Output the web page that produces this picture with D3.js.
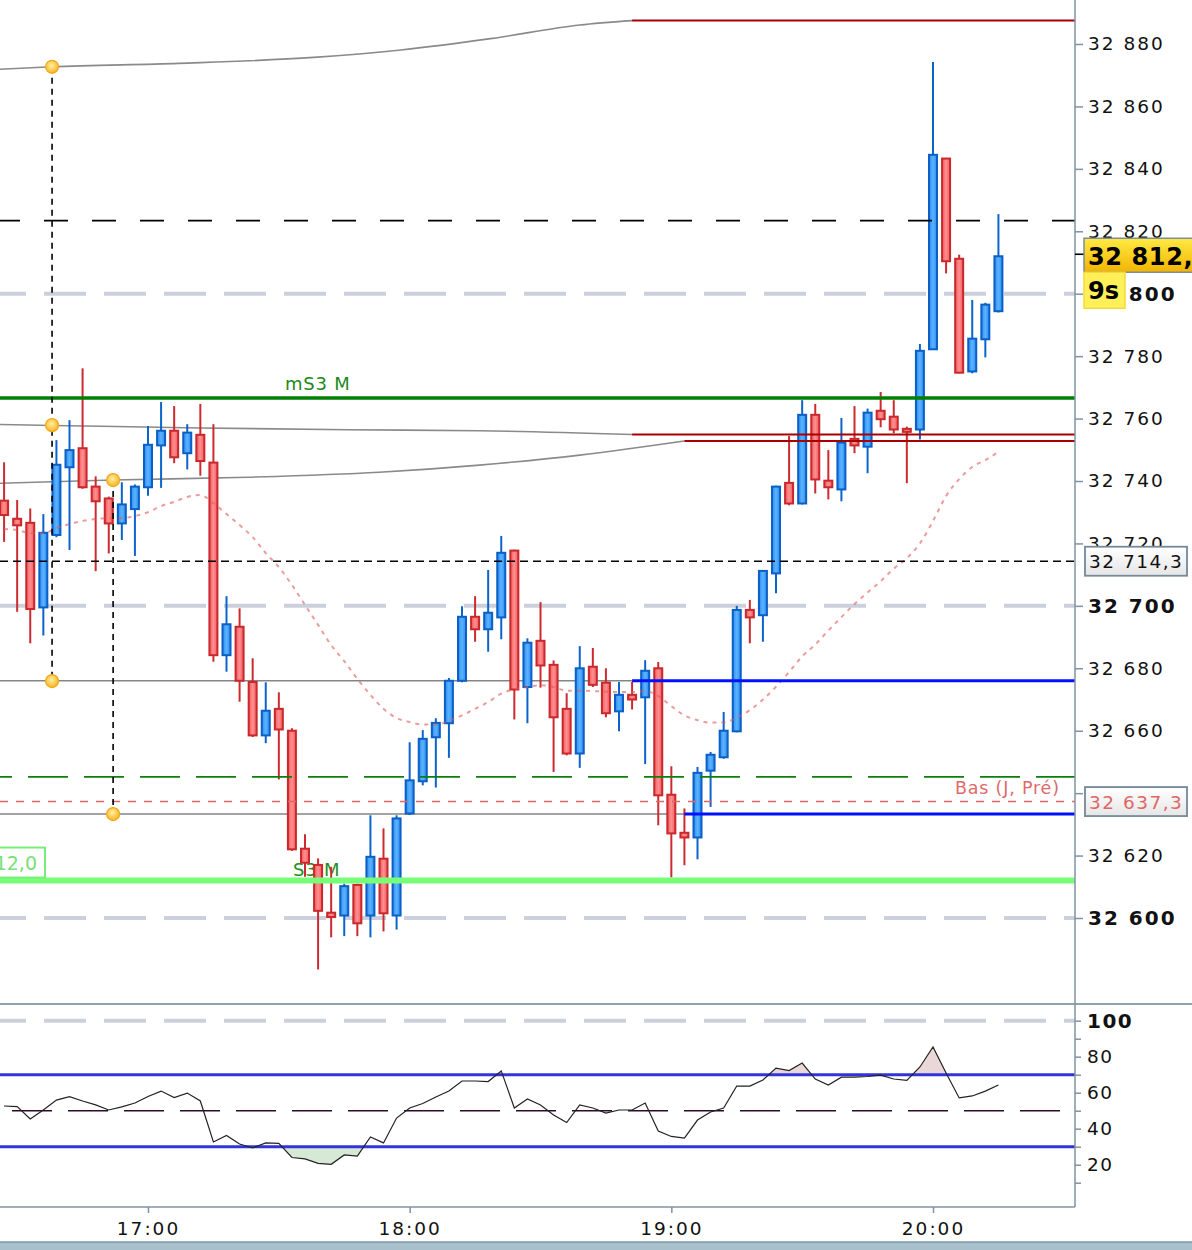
<!DOCTYPE html>
<html>
<head>
<meta charset="utf-8">
<script src="https://cdn.jsdelivr.net/npm/d3@7.9.0/dist/d3.min.js"></script>
<style>
  html, body { margin: 0; padding: 0; background: #fff; }
  svg { display: block; font-family: "DejaVu Sans", sans-serif; }
</style>
</head>
<body>
<svg id="chart" width="1192" height="1250"></svg>
<script>
// ---- data (3 min candles) ----
const times = ["16:27","16:30","16:33","16:36","16:39","16:42","16:45","16:48","16:51","16:54","16:57",
  "17:00","17:03","17:06","17:09","17:12","17:15","17:18","17:21","17:24","17:27","17:30","17:33","17:36","17:39","17:42","17:45","17:48","17:51","17:54","17:57",
  "18:00","18:03","18:06","18:09","18:12","18:15","18:18","18:21","18:24","18:27","18:30","18:33","18:36","18:39","18:42","18:45","18:48","18:51","18:54","18:57",
  "19:00","19:03","19:06","19:09","19:12","19:15","19:18","19:21","19:24","19:27","19:30","19:33","19:36","19:39","19:42","19:45","19:48","19:51","19:54","19:57",
  "20:00","20:03","20:06","20:09","20:12","20:15"];
const open = [32733.7,32727.9,32726.6,32699.5,32722.7,32744.4,32750.5,32738.2,32734.4,32726.4,32731.0,
  32738.0,32751.4,32756.1,32748.9,32754.8,32745.9,32684.2,32693.3,32675.6,32658.5,32667.0,32660.0,32622.2,32617.0,32601.7,32600.8,32610.6,32600.8,32619.0,32600.8,
  32633.5,32643.8,32657.9,32662.4,32676.0,32696.5,32692.5,32696.3,32717.7,32674.0,32688.8,32681.1,32667.0,32652.7,32680.5,32675.4,32666.2,32671.5,32670.7,32680.0,
  32639.5,32627.3,32625.8,32647.2,32651.5,32659.8,32698.7,32697.0,32710.4,32739.4,32732.8,32761.2,32740.1,32737.3,32753.5,32751.0,32762.5,32760.6,32756.7,32756.5,
  32782.2,32843.3,32811.2,32775.1,32785.4,32794.4];
const high = [32746.0,32733.9,32731.2,32729.4,32753.1,32759.5,32776.1,32741.5,32735.0,32739.6,32738.9,
  32757.6,32765.3,32764.0,32758.2,32764.7,32758.2,32703.1,32699.2,32683.2,32675.5,32672.3,32660.8,32626.8,32619.1,32616.4,32611.0,32611.0,32632.9,32628.7,32632.9,
  32656.3,32660.2,32664.0,32676.9,32699.9,32703.1,32711.5,32722.4,32718.0,32689.6,32701.2,32682.5,32672.0,32687.1,32686.5,32680.0,32675.6,32675.6,32682.6,32682.0,
  32648.6,32635.1,32648.4,32653.2,32666.0,32700.0,32701.9,32711.5,32738.5,32754.4,32765.9,32764.7,32749.9,32760.2,32764.0,32763.2,32768.5,32765.9,32757.4,32783.9,
  32874.2,32843.5,32812.5,32798.0,32797.1,32825.5];
const low = [32720.5,32698.1,32688.0,32690.5,32722.0,32717.9,32737.5,32711.1,32716.8,32721.1,32716.0,
  32735.3,32737.8,32745.7,32743.7,32741.7,32682.1,32678.9,32669.3,32658.0,32656.0,32644.4,32621.5,32613.2,32583.5,32593.8,32594.2,32594.2,32593.8,32595.7,32596.3,
  32633.0,32642.5,32641.8,32651.3,32675.5,32688.5,32685.3,32689.3,32663.6,32662.4,32673.8,32646.8,32652.1,32648.1,32674.0,32664.3,32659.8,32666.8,32649.3,32629.7,
  32613.0,32616.9,32618.8,32635.6,32651.0,32659.5,32688.0,32688.5,32704.0,32732.2,32732.5,32736.0,32734.1,32733.5,32748.9,32742.5,32757.2,32755.3,32739.3,32753.3,
  32782.0,32806.5,32774.5,32774.5,32779.6,32794.0];
const close = [32729.1,32725.8,32699.0,32723.4,32745.2,32749.9,32738.0,32733.5,32726.4,32732.5,32738.2,
  32751.6,32756.1,32747.6,32755.5,32746.4,32684.2,32694.1,32676.0,32658.5,32666.4,32660.4,32622.0,32617.7,32602.3,32600.3,32610.2,32598.3,32619.6,32601.5,32631.9,
  32644.1,32657.4,32662.5,32676.0,32696.5,32692.5,32697.8,32717.0,32673.2,32688.2,32680.9,32664.3,32652.7,32680.0,32674.7,32665.6,32671.5,32670.0,32679.2,32639.3,
  32627.1,32625.8,32646.5,32652.3,32660.0,32698.7,32696.3,32711.2,32738.2,32732.8,32761.2,32740.5,32738.0,32752.3,32751.4,32761.9,32759.8,32756.5,32755.9,32781.7,
  32844.5,32810.4,32774.7,32785.6,32796.5,32812.0];
// dotted moving average
const movingAvg = [32724.6,32724.3,32723.3,32723.3,32724.9,32726.2,32727.2,32727.8,32728.1,32728.1,32728.8,
  32730.0,32732.0,32733.3,32734.9,32735.5,32732.9,32729.4,32725.9,32722.0,32716.9,32712.4,32706.7,32700.3,32693.9,32687.4,32682.3,32676.6,32671.5,32667.0,32664.1,
  32662.8,32662.0,32662.0,32663.1,32664.9,32667.0,32669.2,32671.9,32673.3,32674.0,32674.6,32674.0,32672.8,32672.8,32672.7,32672.5,32672.4,32672.4,32672.7,32671.1,
  32667.9,32664.9,32663.4,32662.6,32662.6,32664.2,32666.6,32670.0,32674.1,32678.8,32683.8,32687.6,32692.1,32696.4,32700.6,32704.3,32707.9,32711.9,32715.3,32720.0,
  32727.2,32735.2,32740.6,32744.5,32746.7,32749.3];
// RSI in lower pane
const rsi = [52.6,52.3,45.4,50.4,55.9,57.8,55.4,53.2,50.4,52.1,54.3,
  57.9,60.9,57.3,59.8,55.4,32.6,36.2,31.5,29.3,32.1,31.9,24.0,23.2,20.7,20.2,25.4,24.8,35.4,32.1,45.9,
  51.5,54.0,57.6,60.9,66.5,66.5,66.2,72.1,51.5,56.5,53.2,47.6,43.4,53.2,51.5,48.7,50.4,50.4,54.3,38.7,
  35.7,34.8,44.8,49.3,51.5,63.7,63.7,67.1,73.7,72.3,76.5,67.6,64.3,68.6,68.7,69.0,69.8,67.6,66.8,74.3,
  85.4,70.9,57.1,58.2,60.9,64.3];

// smoothed level transitions (grey) and the new day's levels (dark red)
const curveTopTimes = ["16:26","16:38","17:07","17:38","17:58","18:19","18:39","18:51"];
const curveTopValues = [32871.9,32872.7,32873.8,32875.7,32878.1,32881.8,32886.1,32887.5];
const curveMidTimes = ["16:26","16:38","17:12","17:46","18:16","18:51"];
const curveMidValues = [32758.1,32757.8,32757.0,32756.4,32756.1,32754.9];
const curveLowTimes = ["16:26","16:52","17:23","17:53","18:16","18:39","19:03"];
const curveLowValues = [32739.3,32740.3,32741.2,32742.8,32745.1,32748.3,32752.8];
const dayLevelStarts = ["18:51","18:51","19:03"];
const dayLevelValues = [32887.5,32754.9,32752.8];
// grey range lines that turn blue
const rangeSwitchTimes = ["18:51","19:03"];
const rangeValues = [32676.0,32633.3];
// monthly pivots
const pivotLabels = ["mS3 M","S3 M"];
const pivotValues = [32766.6,32612.0];
const pivotBoxText = "32 612,0";
// other reference lines
const greenDashValue = 32645.2;
const blackDashValue = 32823.4;
const refLabels = ["32 714,3","32 637,3"];
const refValues = [32714.3,32637.3];
const prevLowLabel = "Bas (J, Pré)";
const lastPrice = 32812.0;
const lastPriceText = "32 812,0";
const countdown = "9s";
// drawing tool anchors
const drawTimes = ["16:38","16:52"];
const drawValuesA = [32872.7,32757.9,32675.9];
const drawValuesB = [32740.3,32633.3];

const priceTicks = d3.range(32600, 32881, 20);
const rsiTicks = d3.range(10, 101, 10);
const rsiBands = [70, 30];
const timeTicks = ["17:00","18:00","19:00","20:00"];

// ---- setup ----
const parseT = d3.timeParse("%H:%M");
const fr = d3.formatLocale({decimal: ",", thousands: " ", grouping: [3], currency: ["", " €"]});
const fmt = fr.format(",");

const W = 1192, plotR = 1075, paneBottom = 1003;
const x = d3.scaleTime().domain([parseT("17:00"), parseT("20:00")]).range([148, 933]);
const y = d3.scaleLinear().domain([32600, 32880]).range([918, 44]);
const ry = d3.scaleLinear().domain([0, 100]).range([1200.7, 1020.7]);

const svg = d3.select("#chart");
const defs = svg.append("defs");

function hGrad(id, edge, mid) {
  const g = defs.append("linearGradient").attr("id", id).attr("x1", 0).attr("x2", 1).attr("y1", 0).attr("y2", 0);
  g.append("stop").attr("offset", "0%").attr("stop-color", edge);
  g.append("stop").attr("offset", "50%").attr("stop-color", mid);
  g.append("stop").attr("offset", "100%").attr("stop-color", edge);
}
hGrad("gUp", "#2b8cf0", "#5cb4ff");
hGrad("gDown", "#f15a5e", "#ff9090");
const gy = defs.append("linearGradient").attr("id", "gYellow").attr("x1", 0).attr("x2", 0).attr("y1", 0).attr("y2", 1);
gy.append("stop").attr("offset", "0%").attr("stop-color", "#ffea45");
gy.append("stop").attr("offset", "100%").attr("stop-color", "#f2b400");
const gb = defs.append("linearGradient").attr("id", "gBox").attr("x1", 0).attr("x2", 0).attr("y1", 0).attr("y2", 1);
gb.append("stop").attr("offset", "0%").attr("stop-color", "#ffffff");
gb.append("stop").attr("offset", "100%").attr("stop-color", "#e6e6e6");
const gd = defs.append("radialGradient").attr("id", "gDot").attr("cx", "45%").attr("cy", "40%").attr("r", "60%");
gd.append("stop").attr("offset", "0%").attr("stop-color", "#fff0a0");
gd.append("stop").attr("offset", "100%").attr("stop-color", "#f7b320");

defs.append("clipPath").attr("id", "pane").append("rect")
  .attr("x", 0).attr("y", 0).attr("width", plotR).attr("height", paneBottom);
defs.append("clipPath").attr("id", "rpane").append("rect")
  .attr("x", 0).attr("y", 1005).attr("width", plotR).attr("height", 202);
defs.append("clipPath").attr("id", "above70").append("rect")
  .attr("x", 0).attr("y", 1005).attr("width", plotR).attr("height", ry(70) - 1005);
defs.append("clipPath").attr("id", "below30").append("rect")
  .attr("x", 0).attr("y", ry(30)).attr("width", plotR).attr("height", 1207 - ry(30));

const candles = times.map((t, i) => ({t: parseT(t), o: open[i], h: high[i], l: low[i], c: close[i]}));

// ---- price pane ----
const pane = svg.append("g").attr("clip-path", "url(#pane)");

// grid dashes at round hundreds
pane.selectAll("line.grid").data(priceTicks.filter(d => d % 100 === 0)).join("line")
  .attr("x1", 0).attr("x2", plotR).attr("y1", d => y(d)).attr("y2", d => y(d))
  .attr("stroke", "#ccd0dc").attr("stroke-width", 4)
  .attr("stroke-dasharray", "42,18").attr("stroke-dashoffset", 16);

// grey smoothed curves
const curveLine = d3.line().x(d => x(d[0])).y(d => y(d[1])).curve(d3.curveMonotoneX);
[[curveTopTimes, curveTopValues], [curveMidTimes, curveMidValues], [curveLowTimes, curveLowValues]]
  .forEach(([ts, vs]) => {
    pane.append("path").datum(ts.map((t, i) => [parseT(t), vs[i]]))
      .attr("d", curveLine).attr("fill", "none").attr("stroke", "#8a8a8a").attr("stroke-width", 1.6);
  });

// grey range lines (before switch)
rangeValues.forEach((v, i) => {
  pane.append("line").attr("x1", 0).attr("x2", x(parseT(rangeSwitchTimes[i])))
    .attr("y1", y(v)).attr("y2", y(v)).attr("stroke", "#858585").attr("stroke-width", 1.6);
});

// pivot labels (behind candles)
pane.append("text").text(pivotLabels[0]).attr("x", 285).attr("y", y(pivotValues[0]) - 8)
  .attr("font-size", 18).attr("letter-spacing", 0.8).attr("fill", "#1a8a1a");
pane.append("text").text(pivotLabels[1]).attr("x", 293).attr("y", y(pivotValues[1]) - 5)
  .attr("font-size", 18).attr("letter-spacing", 0.8).attr("fill", "#1f8f1f");

// candles
const cw = 8;
const cg = pane.append("g").selectAll("g").data(candles).join("g");
cg.append("line")
  .attr("x1", d => x(d.t)).attr("x2", d => x(d.t))
  .attr("y1", d => y(d.h)).attr("y2", d => y(d.l))
  .attr("stroke", d => d.c >= d.o ? "#0b63cc" : "#cc2a2e").attr("stroke-width", 2);
cg.append("rect")
  .attr("x", d => x(d.t) - cw / 2)
  .attr("y", d => y(Math.max(d.o, d.c)))
  .attr("width", cw)
  .attr("height", d => Math.max(3, Math.abs(y(d.o) - y(d.c))))
  .attr("fill", d => d.c >= d.o ? "url(#gUp)" : "url(#gDown)")
  .attr("stroke", d => d.c >= d.o ? "#0b5fc6" : "#c9282c").attr("stroke-width", 2);

// moving average, dotted
pane.append("path")
  .datum(times.map((t, i) => [parseT(t), movingAvg[i]]))
  .attr("d", d3.line().x(d => x(d[0])).y(d => y(d[1])).curve(d3.curveMonotoneX))
  .attr("fill", "none").attr("stroke", "#e05a5a").attr("stroke-opacity", 0.6)
  .attr("stroke-width", 2).attr("stroke-dasharray", "4,5");

// blue parts of range lines
rangeValues.forEach((v, i) => {
  pane.append("line").attr("x1", x(parseT(rangeSwitchTimes[i]))).attr("x2", plotR)
    .attr("y1", y(v)).attr("y2", y(v)).attr("stroke", "#0010ff").attr("stroke-width", 3);
});
// new day levels
dayLevelValues.forEach((v, i) => {
  pane.append("line").attr("x1", x(parseT(dayLevelStarts[i]))).attr("x2", plotR)
    .attr("y1", y(v)).attr("y2", y(v)).attr("stroke", "#a80000").attr("stroke-width", 2);
});

// dashed references
pane.append("line").attr("x1", 0).attr("x2", plotR).attr("y1", y(greenDashValue)).attr("y2", y(greenDashValue))
  .attr("stroke", "#0a800a").attr("stroke-width", 1.6).attr("stroke-dasharray", "40,16").attr("stroke-dashoffset", 28);
pane.append("line").attr("x1", 0).attr("x2", plotR).attr("y1", y(refValues[1])).attr("y2", y(refValues[1]))
  .attr("stroke", "#e06666").attr("stroke-width", 1.6).attr("stroke-dasharray", "8,8");
pane.append("line").attr("x1", 0).attr("x2", plotR).attr("y1", y(refValues[0])).attr("y2", y(refValues[0]))
  .attr("stroke", "#000").attr("stroke-width", 1.6).attr("stroke-dasharray", "8,5");
pane.append("line").attr("x1", 0).attr("x2", plotR).attr("y1", y(blackDashValue)).attr("y2", y(blackDashValue))
  .attr("stroke", "#000").attr("stroke-width", 1.6).attr("stroke-dasharray", "24,24").attr("stroke-dashoffset", 4);

// monthly pivot lines
pane.append("line").attr("x1", 0).attr("x2", plotR).attr("y1", y(pivotValues[0])).attr("y2", y(pivotValues[0]))
  .attr("stroke", "#008000").attr("stroke-width", 3.5);
pane.append("line").attr("x1", 0).attr("x2", plotR).attr("y1", y(pivotValues[1])).attr("y2", y(pivotValues[1]))
  .attr("stroke", "#77ff77").attr("stroke-width", 6);
// left label box of S3
pane.append("rect").attr("x", -80).attr("y", y(pivotValues[1]) - 33).attr("width", 125).attr("height", 30)
  .attr("fill", "#fff").attr("stroke", "#77ee77").attr("stroke-width", 2);
pane.append("text").text(pivotBoxText).attr("x", 37).attr("y", y(pivotValues[1]) - 11)
  .attr("text-anchor", "end").attr("font-size", 19).attr("fill", "#77e077");

pane.append("text").text(prevLowLabel).attr("x", 955).attr("y", y(refValues[1]) - 8)
  .attr("font-size", 17.5).attr("letter-spacing", 0.8).attr("fill", "#e06a6a");

// drawing tool: dashed verticals with anchor dots
[[drawTimes[0], drawValuesA], [drawTimes[1], drawValuesB]].forEach(([t, vs]) => {
  const xx = x(parseT(t));
  pane.append("line").attr("x1", xx).attr("x2", xx).attr("y1", y(d3.max(vs))).attr("y2", y(d3.min(vs)))
    .attr("stroke", "#000").attr("stroke-width", 1.6).attr("stroke-dasharray", "6,5");
  pane.selectAll(null).data(vs).join("circle")
    .attr("cx", xx).attr("cy", d => y(d)).attr("r", 6.5)
    .attr("fill", "url(#gDot)").attr("stroke", "#f2a81c").attr("stroke-width", 1.2);
});

// ---- RSI pane ----
const rp = svg.append("g").attr("clip-path", "url(#rpane)");
const rsiPts = times.map((t, i) => [parseT(t), rsi[i]]);
rp.append("line").attr("x1", 0).attr("x2", plotR).attr("y1", ry(100)).attr("y2", ry(100))
  .attr("stroke", "#ccd0dc").attr("stroke-width", 4).attr("stroke-dasharray", "42,18").attr("stroke-dashoffset", 16);
rp.append("path").datum(rsiPts).attr("clip-path", "url(#above70)")
  .attr("d", d3.area().x(d => x(d[0])).y0(ry(70)).y1(d => ry(d[1])))
  .attr("fill", "#ead8d8");
rp.append("path").datum(rsiPts).attr("clip-path", "url(#below30)")
  .attr("d", d3.area().x(d => x(d[0])).y0(ry(30)).y1(d => ry(d[1])))
  .attr("fill", "#d5e9d5");
rp.append("line").attr("x1", 0).attr("x2", plotR).attr("y1", ry(50)).attr("y2", ry(50))
  .attr("stroke", "#2e0a2e").attr("stroke-width", 1.6).attr("stroke-dasharray", "40,16").attr("stroke-dashoffset", -12);
rp.selectAll("line.band").data(rsiBands).join("line")
  .attr("x1", 0).attr("x2", plotR).attr("y1", d => ry(d)).attr("y2", d => ry(d))
  .attr("stroke", "#3333dd").attr("stroke-width", 3);
rp.append("path").datum(rsiPts)
  .attr("d", d3.line().x(d => x(d[0])).y(d => ry(d[1])))
  .attr("fill", "none").attr("stroke", "#222").attr("stroke-width", 1.2);

// ---- frames ----
const axisCol = "#7f93a3";
svg.append("line").attr("x1", 0).attr("x2", W).attr("y1", 1004).attr("y2", 1004).attr("stroke", "#8fa2b0").attr("stroke-width", 2);
svg.append("line").attr("x1", 0).attr("x2", plotR).attr("y1", 1207).attr("y2", 1207).attr("stroke", axisCol).attr("stroke-width", 1.5);
svg.append("line").attr("x1", plotR).attr("x2", plotR).attr("y1", 0).attr("y2", 1207).attr("stroke", axisCol).attr("stroke-width", 1.5);

// ---- axes ----
const pAxis = svg.append("g").attr("transform", `translate(${plotR},0)`)
  .call(d3.axisRight(y).tickValues(priceTicks).tickSize(8).tickPadding(5).tickFormat(fmt));
pAxis.select(".domain").remove();
pAxis.selectAll(".tick line").attr("stroke", axisCol).attr("stroke-width", 1.5);
pAxis.selectAll(".tick text")
  .attr("font-family", "DejaVu Sans").attr("fill", "#111")
  .attr("font-size", d => d % 100 === 0 ? 20 : 18.5)
  .attr("font-weight", d => d % 100 === 0 ? "bold" : "normal")
  .attr("letter-spacing", 2);

const rAxis = svg.append("g").attr("transform", `translate(${plotR},0)`)
  .call(d3.axisRight(ry).tickValues(rsiTicks).tickSize(6).tickPadding(6).tickFormat(d => d % 20 === 0 ? d : ""));
rAxis.select(".domain").remove();
rAxis.selectAll(".tick line").attr("stroke", axisCol).attr("stroke-width", 1.5);
rAxis.selectAll(".tick text")
  .attr("font-family", "DejaVu Sans").attr("fill", "#111")
  .attr("font-size", d => d === 100 ? 20 : 18.5)
  .attr("font-weight", d => d === 100 ? "bold" : "normal").attr("letter-spacing", 1.5);

const tAxis = svg.append("g").attr("transform", "translate(0,1207)")
  .call(d3.axisBottom(x).tickValues(timeTicks.map(parseT)).tickSize(6).tickPadding(9).tickFormat(d3.timeFormat("%H:%M")));
tAxis.select(".domain").remove();
tAxis.selectAll(".tick line").attr("stroke", axisCol).attr("stroke-width", 1.5);
tAxis.selectAll(".tick text").attr("font-family", "DejaVu Sans").attr("font-size", 18.5).attr("fill", "#111").attr("letter-spacing", 2);

// ---- axis boxes ----
refValues.forEach((v, i) => {
  const yy = y(v);
  svg.append("rect").attr("x", 1085).attr("y", yy - 14.5).attr("width", 102).attr("height", 29)
    .attr("fill", "url(#gBox)").attr("stroke", "#74899a").attr("stroke-width", 1.8);
  svg.append("text").text(refLabels[i]).attr("x", 1089).attr("y", yy + 7)
    .attr("font-size", 18.5).attr("letter-spacing", 1.5).attr("fill", i === 0 ? "#111" : "#e06666");
});
// last price
const ly = y(lastPrice);
svg.append("line").attr("x1", plotR).attr("x2", plotR + 9).attr("y1", ly - 2).attr("y2", ly - 2).attr("stroke", "#000").attr("stroke-width", 1.6);
svg.append("rect").attr("x", 1084).attr("y", ly - 18).attr("width", 120).attr("height", 34)
  .attr("fill", "url(#gYellow)").attr("stroke", "#7d8d99").attr("stroke-width", 1.5);
svg.append("text").text(lastPriceText).attr("x", 1088).attr("y", ly + 9)
  .attr("font-size", 24).attr("font-weight", "bold").attr("letter-spacing", 0.6).attr("fill", "#000");
svg.append("rect").attr("x", 1084).attr("y", ly + 16).attr("width", 41).attr("height", 36)
  .attr("fill", "#fff05a").attr("stroke", "#f3dc3a").attr("stroke-width", 1.5);
svg.append("text").text(countdown).attr("x", 1088).attr("y", ly + 43)
  .attr("font-size", 24).attr("font-weight", "bold").attr("fill", "#000");

// bottom band
svg.append("rect").attr("x", 0).attr("y", 1242).attr("width", W).attr("height", 8).attr("fill", "#a8c0cc");
svg.append("line").attr("x1", 0).attr("x2", W).attr("y1", 1242).attr("y2", 1242).attr("stroke", "#7f97a5").attr("stroke-width", 1.5);
</script>
</body>
</html>
